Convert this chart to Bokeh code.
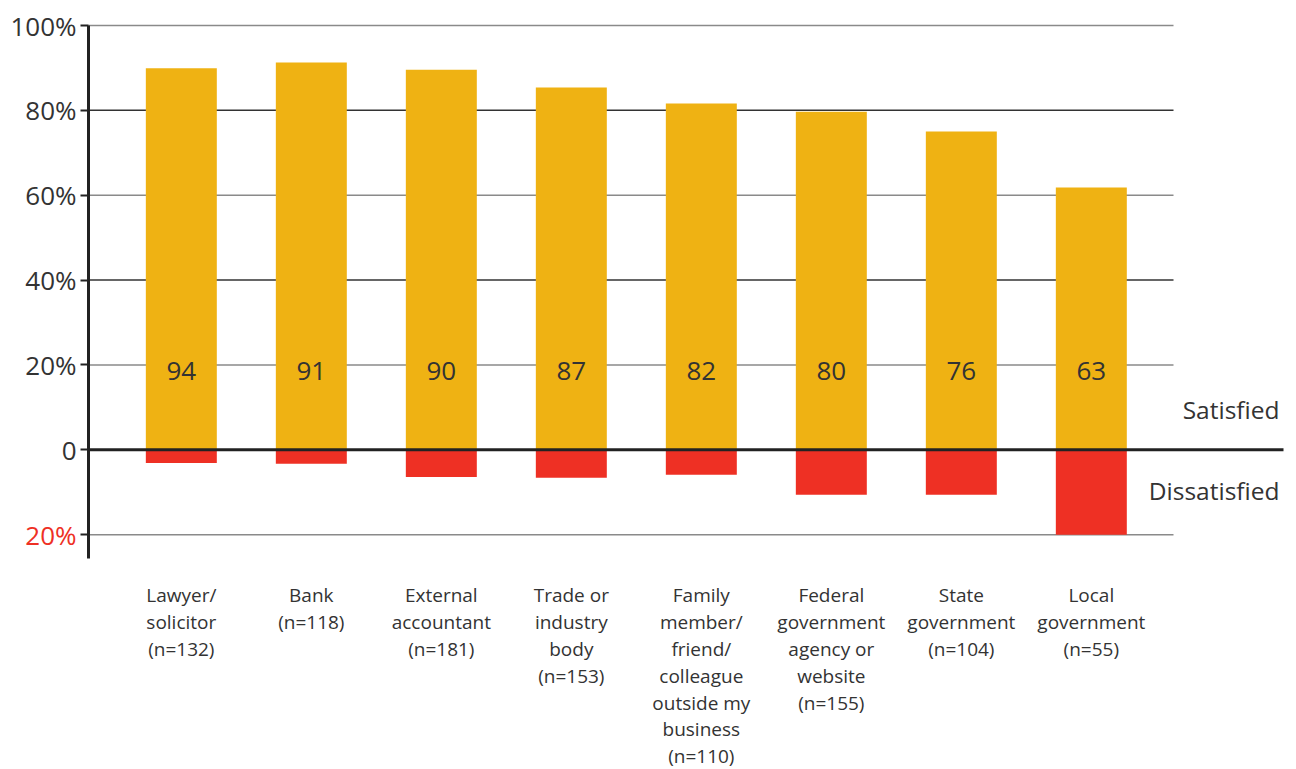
from bokeh.plotting import figure
from bokeh.models import Range1d, FixedTicker, ColumnDataSource
from bokeh.embed import file_html
from bokeh.resources import INLINE
from bokeh.core.properties import value

# ---- data ----
categories = [
    "Lawyer/\nsolicitor\n(n=132)",
    "Bank\n(n=118)",
    "External\naccountant\n(n=181)",
    "Trade or\nindustry\nbody\n(n=153)",
    "Family\nmember/\nfriend/\ncolleague\noutside my\nbusiness\n(n=110)",
    "Federal\ngovernment\nagency or\nwebsite\n(n=155)",
    "State\ngovernment\n(n=104)",
    "Local\ngovernment\n(n=55)",
]
satisfied_bar = [89.9, 91.3, 89.6, 85.4, 81.6, 79.7, 75.0, 61.8]
dissatisfied_bar = [-3.1, -3.3, -6.4, -6.6, -5.9, -10.6, -10.6, -20.0]
satisfied_labels = ["94", "91", "90", "87", "82", "80", "76", "63"]
y_ticks = [100, 80, 60, 40, 20, 0, -20]
y_tick_labels = ["100%", "80%", "60%", "40%", "20%", "0", "20%"]
grid_values = [100, 80, 60, 40, 20, -20]
series_names = ["Satisfied", "Dissatisfied"]

# ---- styles ----
YELLOW = "#EFB213"
RED = "#EE3024"
TEXT = "#333333"
FONT = "Open Sans"
grid_colors = ["#8a8a8a", "#333333", "#8a8a8a", "#333333", "#8a8a8a", "#8a8a8a"]

W, H = 1296, 769
PX = 130.0                      # pixels per category
X_AXIS = -0.714                 # data x where the y axis sits
X0 = X_AXIS - 88 / PX
X1 = X_AXIS + (W - 88) / PX
GRID_END = X_AXIS + (1173 - 88) / PX
PY = 4.243                      # pixels per percentage point
Y_TOP_PX, Y_ZERO_PX = 25, 449.3
Y1 = 100 + Y_TOP_PX / PY
Y0 = -(H - Y_ZERO_PX) / PY
Y_AXIS_BOTTOM = -25.6
xs = list(range(len(categories)))

p = figure(width=W, height=H, x_range=Range1d(X0, X1), y_range=Range1d(Y0, Y1),
           output_backend="svg", toolbar_location=None,
           min_border_left=0, min_border_right=0, min_border_top=0, min_border_bottom=0)
p.outline_line_color = None
p.xgrid.visible = False
p.ygrid.visible = False
p.background_fill_color = "white"
p.border_fill_color = "white"

# gridlines
gsrc = ColumnDataSource(dict(y=grid_values, c=grid_colors))
p.segment(x0=X_AXIS, x1=GRID_END, y0="y", y1="y", line_color="c", line_width=1.5, source=gsrc)

# bars
src = ColumnDataSource(dict(x=xs, sat=satisfied_bar, dis=dissatisfied_bar, lab=satisfied_labels))
p.vbar(x="x", top="sat", bottom=0, width=0.546, fill_color=YELLOW, line_color=None, source=src)
p.vbar(x="x", top=0, bottom="dis", width=0.546, fill_color=RED, line_color=None, source=src)

# zero line
p.segment(x0=X_AXIS, x1=X_AXIS + (1283 - 88) / PX, y0=0, y1=0, line_color="#222222", line_width=3)

# value labels
p.text(x="x", y=18.5, text="lab", source=src, text_align="center", text_baseline="middle",
       text_font=value(FONT), text_font_size="26px", text_color=TEXT)

# series labels
p.text(x=[X_AXIS + (1279 - 88) / PX] * 2, y=[9.5, -9.6], text=series_names, text_align="right",
       text_baseline="middle", text_font=value(FONT), text_font_size="24.5px", text_color=TEXT)

# y axis, drawn at a fixed data location inside the frame
ya = p.yaxis[0]
ya.fixed_location = X_AXIS
ya.bounds = (Y_AXIS_BOTTOM, 100)
ya.ticker = FixedTicker(ticks=y_ticks)
ya.major_label_overrides = {t: (l if t >= 0 else "") for t, l in zip(y_ticks, y_tick_labels)}
ya.axis_line_color = "#222222"
ya.axis_line_width = 3
ya.major_tick_line_color = "#222222"
ya.major_tick_line_width = 2
ya.major_tick_out = 8
ya.major_tick_in = 0
ya.minor_tick_line_color = None
ya.major_label_standoff = 4
ya.major_label_text_font = FONT
ya.major_label_text_font_size = "26px"
ya.major_label_text_color = TEXT

# the negative tick label is red
neg_ticks = [t for t in y_ticks if t < 0]
neg_labels = [l for t, l in zip(y_ticks, y_tick_labels) if t < 0]
p.text(x=[X_AXIS - 12 / PX] * len(neg_ticks), y=neg_ticks, text=neg_labels, text_align="right",
       text_baseline="middle", text_font=value(FONT), text_font_size="26px", text_color=RED)

# x axis (category labels) at the bottom of the y axis line
xa = p.xaxis[0]
xa.fixed_location = Y_AXIS_BOTTOM
xa.ticker = FixedTicker(ticks=xs)
xa.major_label_overrides = {i: c for i, c in zip(xs, categories)}
xa.axis_line_color = None
xa.major_tick_line_color = None
xa.minor_tick_line_color = None
xa.major_tick_out = 0
xa.major_tick_in = 0
xa.major_label_standoff = 24
xa.major_label_text_font = FONT
xa.major_label_text_font_size = "19px"
xa.major_label_text_line_height = 1.03
xa.major_label_text_color = TEXT

open("out.html", "w").write(file_html(p, INLINE))
